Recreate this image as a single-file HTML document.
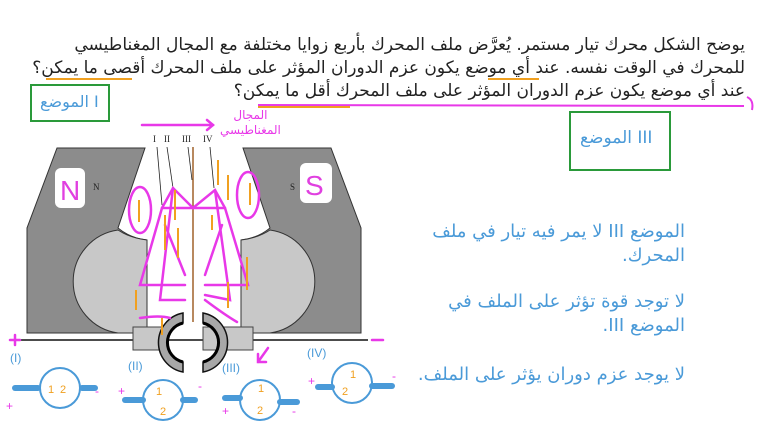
<!DOCTYPE html>
<html><head><meta charset="utf-8"><style>
html,body{margin:0;padding:0;background:#fff;}
body{width:760px;height:427px;overflow:hidden;position:relative;font-family:"Liberation Sans","Noto Sans CJK SC",sans-serif;}
.t{position:absolute;direction:rtl;white-space:nowrap;font-family:"DejaVu Sans",sans-serif;}
</style></head><body>
<svg width="760" height="427" style="position:absolute;left:0;top:0">
<path d="M57,148 L145,148 L118,228 Q130,238 147,240 L147,333 L27,333 L27,228 Z" fill="#8c8c8c" stroke="#333" stroke-width="1"/>
<path d="M118,230 A52,52 0 0 0 118,333 L147,333 L147,240 Q130,238 118,230 Z" fill="#c8c8c8" stroke="#333" stroke-width="1"/>
<path d="M331,148 L243,148 L270,228 Q258,238 241,240 L241,333 L361,333 L361,228 Z" fill="#8c8c8c" stroke="#333" stroke-width="1"/>
<path d="M270,230 A52,52 0 0 1 270,333 L241,333 L241,240 Q258,238 270,230 Z" fill="#c8c8c8" stroke="#333" stroke-width="1"/>
<rect x="55" y="168" width="30" height="40" rx="6" fill="#fff"/>
<text x="60" y="200" font-size="28" fill="#e040e0" font-family="Liberation Sans">N</text>
<text x="93" y="190" font-size="9" fill="#222" font-family="Liberation Serif">N</text>
<rect x="300" y="163" width="32" height="40" rx="6" fill="#fff"/>
<text x="305" y="195" font-size="28" fill="#e040e0" font-family="Liberation Sans">S</text>
<text x="290" y="190" font-size="9" fill="#222" font-family="Liberation Serif">S</text>
<line x1="18" y1="340" x2="368" y2="340" stroke="#111" stroke-width="1.5"/>
<rect x="133" y="327" width="32" height="23" fill="#c8c8c8" stroke="#444"/>
<rect x="203" y="327" width="50" height="23" fill="#c8c8c8" stroke="#444"/>
<path d="M183,313 A30,30 0 0 0 183,372 L183,362 A20,20 0 0 1 183,323 Z" fill="#a8a8a8" stroke="#111" stroke-width="1.5"/>
<path d="M203,313 A30,30 0 0 1 203,372 L203,362 A20,20 0 0 0 203,323 Z" fill="#a8a8a8" stroke="#111" stroke-width="1.5"/>
<path d="M183,323 A20,20 0 0 0 183,362" fill="none" stroke="#000" stroke-width="3"/>
<path d="M203,323 A20,20 0 0 1 203,362" fill="none" stroke="#000" stroke-width="3"/>
<line x1="193" y1="147" x2="193" y2="322" stroke="#a0622a" stroke-width="1.5"/>
<g font-family="Liberation Serif" font-size="9" fill="#222">
<text x="153" y="142">I</text><text x="164" y="142">II</text><text x="182" y="142">III</text><text x="203" y="142">IV</text></g>
<g stroke="#222" stroke-width="0.8" fill="none">
<line x1="157" y1="147" x2="162" y2="205"/><line x1="167" y1="147" x2="173" y2="188"/><line x1="188" y1="147" x2="192" y2="180"/><line x1="210" y1="147" x2="214" y2="188"/></g>
<g stroke="#e838e8" stroke-width="2.5" fill="none" stroke-linecap="round">
<line x1="142" y1="125" x2="213" y2="125"/><path d="M207,120 L213,125 L207,130"/>
<path d="M162,208 L173,188 L193,208 L215,190 L225,208 L248,285 L205,285"/>
<path d="M162,208 L140,285 L185,285"/>
<path d="M162,208 L225,208"/>
<path d="M173,188 L160,300 L185,300"/>
<path d="M215,190 L230,300 L205,295"/>
<path d="M165,225 L185,275"/><path d="M222,225 L205,275"/>
<path d="M140,318 Q160,315 170,318"/><path d="M205,300 Q225,315 237,322"/>
<ellipse cx="140" cy="210" rx="11" ry="23"/><ellipse cx="248" cy="195" rx="11" ry="23"/>
<path d="M10,340 L20,340 M15,335 L15,345"/>
<line x1="372" y1="340" x2="383" y2="340"/>
<path d="M268,348 L258,362 M258,354 L258,362 L266,362"/>
</g>
<g stroke="#f0a020" stroke-width="2" fill="none">
<line x1="139" y1="200" x2="139" y2="222"/><line x1="250" y1="205" x2="250" y2="183"/>
<line x1="175" y1="190" x2="175" y2="220"/><line x1="165" y1="215" x2="165" y2="250"/>
<line x1="178" y1="228" x2="178" y2="258"/><line x1="136" y1="290" x2="136" y2="310"/>
<line x1="218" y1="160" x2="218" y2="185"/><line x1="228" y1="175" x2="228" y2="200"/>
<line x1="212" y1="215" x2="212" y2="230"/><line x1="247" y1="257" x2="247" y2="290"/>
<line x1="228" y1="282" x2="228" y2="308"/><line x1="162" y1="318" x2="162" y2="335"/>
</g>
<g stroke="#4a9ad8" stroke-width="2" fill="none">
<circle cx="60" cy="388" r="20"/><circle cx="163" cy="400" r="20"/><circle cx="260" cy="400" r="20"/><circle cx="352" cy="383" r="20"/></g>
<g stroke="#4a9ad8" stroke-width="6" stroke-linecap="round">
<line x1="15" y1="388" x2="38" y2="388"/><line x1="82" y1="388" x2="95" y2="388"/>
<line x1="125" y1="400" x2="143" y2="400"/><line x1="183" y1="400" x2="195" y2="400"/>
<line x1="225" y1="398" x2="240" y2="398"/><line x1="280" y1="402" x2="297" y2="402"/>
<line x1="318" y1="387" x2="332" y2="387"/><line x1="372" y1="386" x2="392" y2="386"/></g>
<g font-family="Liberation Sans" font-size="12" fill="#4a9ad8">
<text x="10" y="362">(I)</text><text x="128" y="370">(II)</text><text x="222" y="372">(III)</text><text x="307" y="357">(IV)</text></g>
<g font-family="Liberation Sans" font-size="11" fill="#f0a020">
<text x="48" y="393">1</text><text x="60" y="393">2</text><text x="156" y="395">1</text><text x="160" y="415">2</text>
<text x="258" y="392">1</text><text x="257" y="414">2</text><text x="350" y="378">1</text><text x="342" y="395">2</text></g>
<g font-family="Liberation Sans" font-size="12" fill="#e838e8">
<text x="6" y="410">+</text><text x="95" y="395">-</text><text x="118" y="395">+</text><text x="198" y="390">-</text><text x="222" y="415">+</text><text x="292" y="415">-</text><text x="308" y="385">+</text><text x="392" y="380">-</text></g>
<rect x="31" y="85" width="78" height="36" fill="none" stroke="#2a9a3a" stroke-width="2"/>
<rect x="570" y="112" width="100" height="58" fill="none" stroke="#2a9a3a" stroke-width="2"/>
<g stroke-width="2" fill="none">
<line x1="46" y1="79" x2="132" y2="79" stroke="#f0a020"/><line x1="488" y1="79" x2="539" y2="79" stroke="#f0a020"/>
<line x1="258" y1="105" x2="744" y2="106" stroke="#e838e8"/><line x1="258" y1="107" x2="350" y2="107" stroke="#f0a020"/>
<path d="M747,97 Q754,100 752,110" stroke="#e838e8"/></g>
</svg>
<div class="t" style="right:15px;top:35px;font-size:17px;color:#222">يوضح الشكل محرك تيار مستمر. يُعرَّض ملف المحرك بأربع زوايا مختلفة مع المجال المغناطيسي</div>
<div class="t" style="right:15px;top:58px;font-size:17px;color:#222">للمحرك في الوقت نفسه. عند أي موضع يكون عزم الدوران المؤثر على ملف المحرك أقصى ما يمكن؟</div>
<div class="t" style="right:15px;top:81px;font-size:17px;color:#222">عند أي موضع يكون عزم الدوران المؤثر على ملف المحرك أقل ما يمكن؟</div>
<div class="t" style="left:40px;top:92px;font-size:16px;color:#4a9ad8;direction:ltr">الموضع I</div>
<div class="t" style="left:580px;top:128px;font-size:17px;color:#4a9ad8;direction:ltr">الموضع III</div>
<div class="t" style="left:220px;top:108px;font-size:12px;color:#e838e8;line-height:15px;direction:ltr;text-align:center">المجال<br>المغناطيسي</div>
<div class="t" style="right:75px;top:220px;font-size:18px;color:#4a9ad8;line-height:24px">الموضع III لا يمر فيه تيار في ملف<br>المحرك.</div>
<div class="t" style="right:75px;top:290px;font-size:18px;color:#4a9ad8;line-height:24px">لا توجد قوة تؤثر على الملف في<br>الموضع III.</div>
<div class="t" style="right:75px;top:364px;font-size:18px;color:#4a9ad8">لا يوجد عزم دوران يؤثر على الملف.</div>
</body></html>
